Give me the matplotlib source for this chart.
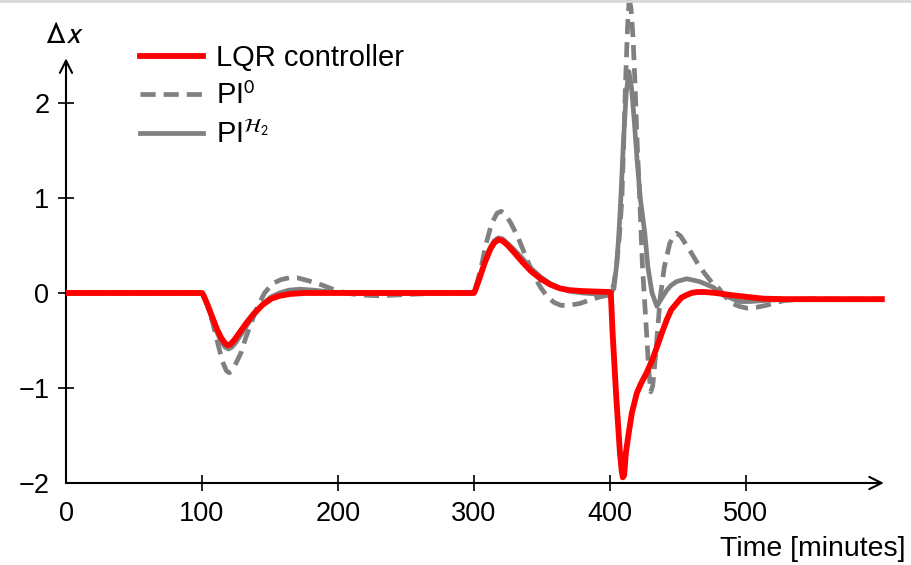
import numpy as np
import matplotlib
matplotlib.use("Agg")
import matplotlib.pyplot as plt
from matplotlib.lines import Line2D

plt.rcParams['font.family'] = ['Liberation Sans', 'DejaVu Sans']
plt.rcParams['mathtext.fontset'] = 'stixsans'

# deviation of the controlled state after the three load steps
t_lqr = [0, 100, 101, 104, 108, 111, 114, 117, 119, 121, 124, 128, 133, 138, 145, 151, 157, 165, 175,
         300, 301, 304, 308, 312, 315, 318, 321, 325, 330, 336, 342, 349, 356, 363, 370, 380,
         400, 400.7, 402, 404.8, 407.4, 408.6, 409.5, 410.5, 411.8, 413.9, 416.2, 419.9, 423, 427,
         431, 434.6, 438, 441.9, 445, 449, 452.5, 456.6, 460, 464, 470, 478, 488, 500, 513, 530, 560, 600]
dx_lqr = [0, 0, -0.02, -0.12, -0.27, -0.38, -0.47, -0.53, -0.55, -0.54, -0.49, -0.41, -0.31, -0.22, -0.12, -0.06, -0.03, -0.01, 0.0,
          0.0, 0.03, 0.15, 0.32, 0.46, 0.53, 0.56, 0.55, 0.50, 0.42, 0.32, 0.23, 0.15, 0.09, 0.05, 0.03, 0.02,
          0.01, 0.0, -0.42, -1.12, -1.68, -1.86, -1.94, -1.92, -1.68, -1.47, -1.26, -1.05, -0.95, -0.84,
          -0.71, -0.57, -0.43, -0.28, -0.18, -0.11, -0.05, -0.02, 0.0, 0.01, 0.01, 0.0, -0.02, -0.04, -0.06, -0.065, -0.065, -0.065]

t_pi0 = [0, 100, 101, 104, 108, 112, 115, 118, 120, 122, 125, 129, 132, 135, 140, 146, 152, 158, 164, 170,
         178, 189, 198, 206, 215, 230, 245, 260, 280,
         300, 301, 305, 309, 313, 317, 320, 323, 327, 332, 336, 340, 345, 349, 354, 359, 364, 370, 378, 386, 393,
         400, 401, 403, 405, 407, 408.8, 410, 411.5, 413, 414.2, 415.5, 417, 418.5, 420, 422, 424, 427, 428.5, 430.1,
         431.5, 433, 435.3, 437, 440, 444, 447, 449, 452, 456, 460, 465, 470, 475, 480, 485, 490, 495, 501,
         508, 515, 520, 528, 537, 550, 570, 600]
dx_pi0 = [0, 0, -0.02, -0.13, -0.32, -0.55, -0.72, -0.82, -0.84, -0.82, -0.74, -0.62, -0.48, -0.36, -0.17, 0.0, 0.10, 0.14, 0.16, 0.16,
          0.13, 0.08, 0.03, 0.0, -0.02, -0.03, -0.02, -0.01, 0.0,
          0.0, 0.04, 0.25, 0.52, 0.73, 0.84, 0.86, 0.83, 0.74, 0.60, 0.46, 0.32, 0.16, 0.06, -0.04, -0.10, -0.13, -0.13, -0.11, -0.07, -0.04,
          -0.02, 0.0, 0.1, 0.3, 0.6, 0.98, 1.5, 2.2, 2.8, 3.1, 3.0, 2.7, 2.2, 1.6, 0.98, 0.27, -0.42, -0.8, -1.04,
          -0.98, -0.75, -0.36, -0.05, 0.27, 0.52, 0.61, 0.63, 0.60, 0.51, 0.42, 0.30, 0.20, 0.11, 0.05, -0.04, -0.11, -0.14, -0.16,
          -0.15, -0.13, -0.11, -0.08, -0.07, -0.06, -0.065, -0.065]

t_pih2 = [0, 100, 101, 104, 108, 111, 114, 117, 119.5, 122, 125, 129, 134, 139, 145, 151, 157, 164, 172, 182, 195, 210,
          300, 301, 304, 308, 312, 315, 318, 321, 325, 330, 336, 342, 349, 356, 363, 370, 380, 390,
          400, 401, 403, 405, 406.5, 408, 410, 412, 414, 416, 418, 420, 422.5, 425.7, 428, 431, 434.6, 437,
          441.9, 445, 449, 456.6, 466, 476, 483, 490, 495.6, 503, 512.5, 530, 600]
dx_pih2 = [0, 0, -0.02, -0.13, -0.29, -0.41, -0.51, -0.57, -0.59, -0.57, -0.52, -0.43, -0.32, -0.22, -0.11, -0.04, 0.0, 0.03, 0.04, 0.03, 0.01, 0.0,
           0.0, 0.03, 0.15, 0.33, 0.48, 0.55, 0.58, 0.57, 0.52, 0.45, 0.36, 0.26, 0.17, 0.10, 0.05, 0.02, 0.0, -0.01,
           0.0, 0.0, 0.05, 0.3, 0.6, 0.98, 1.6, 2.1, 2.33, 2.15, 1.8, 1.4, 0.98, 0.63, 0.27, 0.0, -0.14, -0.08,
           0.03, 0.08, 0.12, 0.15, 0.12, 0.06, -0.02, -0.06, -0.09, -0.09, -0.08, -0.065, -0.065]

x_ticks = [0, 100, 200, 300, 400, 500]
y_ticks = [-2, -1, 0, 1, 2]

fig = plt.figure(figsize=(9.12, 5.65), dpi=100)
ax = fig.add_axes([66 / 912, 82 / 565, 843 / 912, 483 / 565])
ax.set_xlim(0, 620)
ax.set_ylim(-2, 3.084)

l_pi0, = ax.plot(t_pi0, dx_pi0, color='#808080', lw=3.4, ls=(0, (3.2, 1.7)), label=r'PI$^{0}$')
l_pih2, = ax.plot(t_pih2, dx_pih2, color='#808080', lw=3.4, label=r'PI$^{\mathcal{H}_2}$')
l_lqr, = ax.plot(t_lqr, dx_lqr, color='#ff0000', lw=4.2, label='LQR controller', zorder=5)

for s in ax.spines.values():
    s.set_visible(False)

# axes drawn as arrows
arr = dict(arrowstyle='->', lw=1.5, color='black', mutation_scale=22, shrinkA=0, shrinkB=0)
ax.annotate('', xy=(601.5, -2), xytext=(0, -2), arrowprops=arr, annotation_clip=False)
ax.annotate('', xy=(0, 2.47), xytext=(0, -2), arrowprops=arr, annotation_clip=False)

ax.set_xticks(x_ticks)
ax.set_yticks(y_ticks)
ax.set_yticklabels(['\u22122', '\u22121', '0', '1', '2'])
ax.tick_params(direction='inout', length=12, width=1.2, labelsize=19.5)
ax.tick_params(axis='y', pad=6)
ax.tick_params(axis='x', pad=7)
# no tick marks at the origin corner
ax.xaxis.get_major_ticks()[0].tick1line.set_visible(False)
ax.yaxis.get_major_ticks()[0].tick1line.set_visible(False)

ax.text(-1, 2.715, r'$\Delta x$', fontsize=22, ha='center', va='center', clip_on=False)
fig.text(906 / 912, 1 - 549 / 565, 'Time [minutes]', fontsize=20.5, ha='right', va='center')

ax.legend(handles=[l_lqr, l_pi0, l_pih2], loc='upper left', bbox_to_anchor=(140 / 912, 1 - 44 / 565),
          bbox_transform=fig.transFigure, frameon=False, fontsize=21, handlelength=2.15,
          handletextpad=0.45, labelspacing=0.36, borderpad=0, borderaxespad=0)

fig.add_artist(Line2D([0, 1], [0.998, 0.998], transform=fig.transFigure, color='#d8d8d8', lw=2))

fig.savefig('out.png', dpi=100)
